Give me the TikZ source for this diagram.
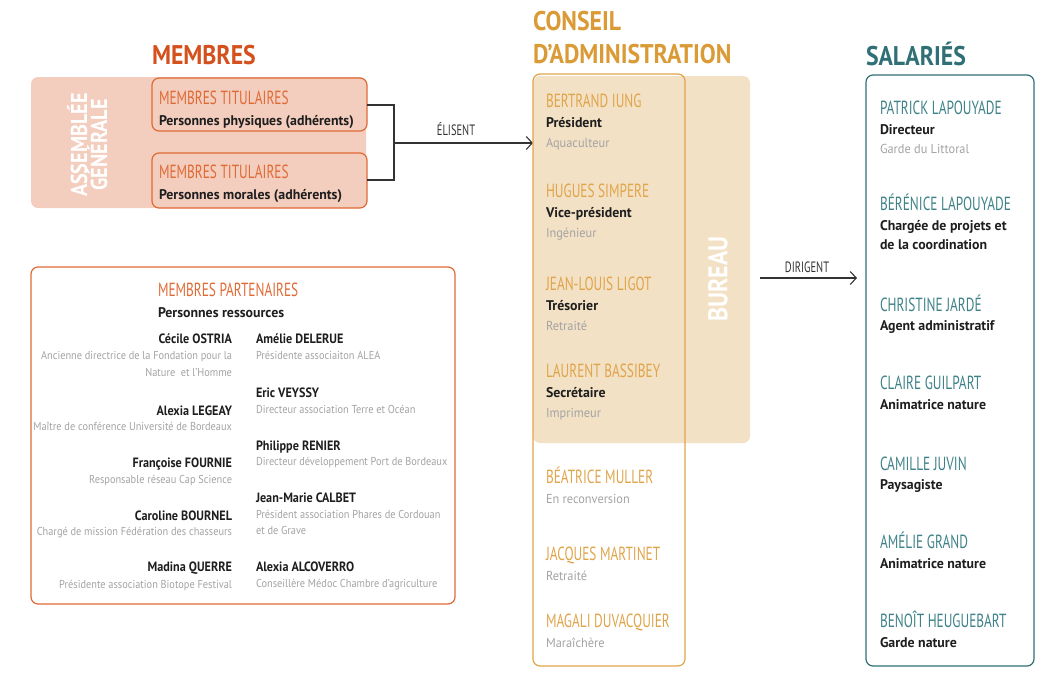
\documentclass[tikz,border=0pt]{standalone}
\usepackage{fontspec}
\usetikzlibrary{arrows.meta}
\setmainfont{PT Sans}[FakeStretch=0.9]
\newfontfamily\rolefont{PT Sans}[FakeStretch=0.99]
\newfontfamily\descfont{PT Sans}[FakeStretch=0.95]
\newfontfamily\titlefont{PT Sans}[FakeStretch=0.88]
\newfontfamily\handfont{PT Sans}[FakeStretch=0.7]
\definecolor{corange}{HTML}{D4511E}
\definecolor{horange}{HTML}{E06A35}
\definecolor{salmon}{HTML}{F3CDBD}
\definecolor{ochre}{HTML}{DA9A35}
\definecolor{hochre}{HTML}{E0A44A}
\definecolor{bureaufill}{HTML}{F3E1C5}
\definecolor{teal}{HTML}{2F6F75}
\definecolor{hteal}{HTML}{3E8288}
\definecolor{desc}{HTML}{A3A3A3}
\definecolor{ink}{HTML}{1E1E1E}
\definecolor{conn}{HTML}{333333}
\begin{document}
\begin{tikzpicture}[x=1pt,y=-1pt,
  every node/.style={inner sep=0pt,outer sep=0pt},
  title/.style={font=\titlefont\bfseries\fontsize{27}{30}\selectfont,anchor=base west},
  hand/.style={font=\handfont\fontsize{19}{20}\selectfont,anchor=base west},
  role/.style={font=\rolefont\fontsize{14}{16}\selectfont\bfseries,text=ink,anchor=base west},
  dsc/.style={font=\descfont\fontsize{13}{15}\selectfont,text=desc,anchor=base west},
  pname/.style={font=\fontsize{13.5}{15}\selectfont\bfseries,text=ink},
  pdesc/.style={font=\fontsize{11.5}{13}\selectfont,text=desc},
  conn/.style={draw=conn,line width=1.1pt},
  arr/.style={conn,-{Straight Barb[length=6pt,width=13pt,line width=1.1pt]}},
  lbl/.style={font=\handfont\fontsize{15}{16}\selectfont,text=conn,anchor=base}
]
\useasboundingbox (0,0) rectangle (1049,675);

% ---------- MEMBRES ----------
\node[title,text=corange] (tmembres) at (152,64) {MEMBRES};
\fill[salmon,rounded corners=7pt] (31,77) rectangle (366,208);
\node[font=\titlefont\bfseries\fontsize{23}{21}\selectfont,text=white,rotate=90,anchor=base] (ag1) at (87,145) {ASSEMBLÉE};
\node[font=\titlefont\bfseries\fontsize{23}{21}\selectfont,text=white,rotate=90,anchor=base] (ag2) at (107,145) {GÉNÉRALE};
\draw[horange,fill=salmon,line width=1.2pt,rounded corners=7pt] (152,78) rectangle (367,131);
\coordinate (mt1e) at (367,105);
\draw[horange,fill=salmon,line width=1.2pt,rounded corners=7pt] (152,153) rectangle (367,208);
\coordinate (mt2e) at (367,180);
\node[hand,text=horange] (mt1h) at (159,104) {MEMBRES TITULAIRES};
\node[role] (mt1r) at (159,125) {Personnes physiques (adhérents)};
\node[hand,text=horange] (mt2h) at (159,178) {MEMBRES TITULAIRES};
\node[role] (mt2r) at (159,199) {Personnes morales (adhérents)};

% bracket and arrow
\coordinate (br) at (394,143);
\draw[conn] (mt1e) -| (br) |- (mt2e);
\coordinate (caIn) at (533,143);
\draw[arr] (br) -- (caIn);
\node[lbl] (elisent) at (456,135) {ÉLISENT};

% ---------- PARTENAIRES ----------
\draw[horange,line width=1.2pt,rounded corners=7pt] (31,267) rectangle (455,604);
\node[hand,text=horange] (mp) at (158,296) {MEMBRES PARTENAIRES};
\node[role] (pr) at (158,317) {Personnes ressources};
\begin{scope}[every node/.append style={anchor=base east}]
\node[pname] (p1) at (232,343) {Cécile OSTRIA};
\node[pdesc] (p1d) at (232,359) {Ancienne directrice de la Fondation pour la};
\node[pdesc] (p1e) at (232,376) {Nature\ \ et l'Homme};
\node[pname] (p2) at (232,415) {Alexia LEGEAY};
\node[pdesc] (p2d) at (232,430) {Maître de conférence Université de Bordeaux};
\node[pname] (p3) at (232,467) {Françoise FOURNIE};
\node[pdesc] (p3d) at (232,483) {Responsable réseau Cap Science};
\node[pname] (p4) at (232,520) {Caroline BOURNEL};
\node[pdesc] (p4d) at (232,535) {Chargé de mission Fédération des chasseurs};
\node[pname] (p5) at (232,571) {Madina QUERRE};
\node[pdesc] (p5d) at (232,588) {Présidente association Biotope Festival};
\end{scope}
\begin{scope}[every node/.append style={anchor=base west}]
\node[pname] (q1) at (256,343) {Amélie DELERUE};
\node[pdesc] (q1d) at (256,359) {Présidente associaiton ALEA};
\node[pname] (q2) at (256,397) {Eric VEYSSY};
\node[pdesc] (q2d) at (256,413) {Directeur association Terre et Océan};
\node[pname] (q3) at (256,450) {Philippe RENIER};
\node[pdesc] (q3d) at (256,465) {Directeur développement Port de Bordeaux};
\node[pname] (q4) at (256,502) {Jean-Marie CALBET};
\node[pdesc] (q4d) at (256,518) {Président association Phares de Cordouan};
\node[pdesc] (q4e) at (256,534) {et de Grave};
\node[pname] (q5) at (256,571) {Alexia ALCOVERRO};
\node[pdesc] (q5d) at (256,587) {Conseillère Médoc Chambre d'agriculture};
\end{scope}

% ---------- CONSEIL ----------
\node[title,text=ochre] (tca1) at (533,30) {CONSEIL};
\node[title,text=ochre] (tca2) at (533,63) {D’ADMINISTRATION};
\fill[bureaufill,rounded corners=7pt] (533,76) rectangle (750,443);
\node[font=\titlefont\bfseries\fontsize{27}{28}\selectfont,text=white,rotate=90] (bureau) at (718,279) {BUREAU};
\draw[hochre,line width=1.2pt,rounded corners=7pt] (533,74) rectangle (685,666);
\node[hand,text=hochre] (c1) at (546,107) {BERTRAND IUNG};
\node[role] (c1r) at (546,127) {Président};
\node[dsc] (c1d) at (546,147) {Aquaculteur};
\node[hand,text=hochre] (c2) at (546,197) {HUGUES SIMPERE};
\node[role] (c2r) at (546,217) {Vice-président};
\node[dsc] (c2d) at (546,237) {Ingénieur};
\node[hand,text=hochre] (c3) at (546,290) {JEAN-LOUIS LIGOT};
\node[role] (c3r) at (546,310) {Trésorier};
\node[dsc] (c3d) at (546,330) {Retraité};
\node[hand,text=hochre] (c4) at (546,377) {LAURENT BASSIBEY};
\node[role] (c4r) at (546,397) {Secrétaire};
\node[dsc] (c4d) at (546,417) {Imprimeur};
\node[hand,text=hochre] (c5) at (546,483) {BÉATRICE MULLER};
\node[dsc] (c5d) at (546,503) {En reconversion};
\node[hand,text=hochre] (c6) at (546,560) {JACQUES MARTINET};
\node[dsc] (c6d) at (546,580) {Retraité};
\node[hand,text=hochre] (c7) at (546,627) {MAGALI DUVACQUIER};
\node[dsc] (c7d) at (546,647) {Maraîchère};

% dirigent
\coordinate (dirA) at (760,278);
\coordinate (salIn) at (857,278);
\draw[arr] (dirA) -- (salIn);
\node[lbl] (dirigent) at (807,272) {DIRIGENT};

% ---------- SALARIES ----------
\node[title,text=teal] (tsal) at (866,65) {SALARIÉS};
\draw[teal,line width=1.2pt,rounded corners=7pt] (866,75) rectangle (1034,666);
\node[hand,text=hteal] (s1) at (880,114) {PATRICK LAPOUYADE};
\node[role] (s1r) at (880,134) {Directeur};
\node[dsc] (s1d) at (880,153) {Garde du Littoral};
\node[hand,text=hteal] (s2) at (880,210) {BÉRÉNICE LAPOUYADE};
\node[role] (s2r) at (880,230) {Chargée de projets et};
\node[role] (s2s) at (880,249) {de la coordination};
\node[hand,text=hteal] (s3) at (880,311) {CHRISTINE JARDÉ};
\node[role] (s3r) at (880,330) {Agent administratif};
\node[hand,text=hteal] (s4) at (880,389) {CLAIRE GUILPART};
\node[role] (s4r) at (880,409) {Animatrice nature};
\node[hand,text=hteal] (s5) at (880,470) {CAMILLE JUVIN};
\node[role] (s5r) at (880,489) {Paysagiste};
\node[hand,text=hteal] (s6) at (880,548) {AMÉLIE GRAND};
\node[role] (s6r) at (880,568) {Animatrice nature};
\node[hand,text=hteal] (s7) at (880,627) {BENOÎT HEUGUEBART};
\node[role] (s7r) at (880,647) {Garde nature};
\end{tikzpicture}
\end{document}
